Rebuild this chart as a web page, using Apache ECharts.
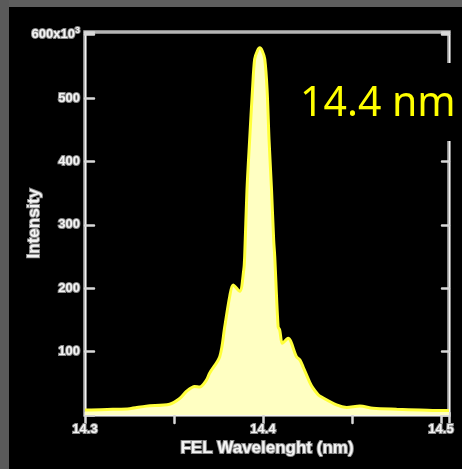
<!DOCTYPE html>
<html>
<head>
<meta charset="utf-8">
<script src="https://cdn.jsdelivr.net/npm/echarts@6/dist/echarts.min.js"></script>
<style>
  html, body { margin: 0; padding: 0; background: #000; }
  #chart { width: 462px; height: 469px; }
</style>
</head>
<body>
<div id="chart"></div>
<script>
// FEL spectrum around 14.4 nm (intensity in units of 10^3)
const wavelengths = [
  14.3000, 14.3016, 14.3156, 14.3250, 14.3344, 14.3475, 14.3532, 14.3569, 14.3616,
  14.3644, 14.3682, 14.3700, 14.3757, 14.3785, 14.3813, 14.3832, 14.3869, 14.3892,
  14.3897, 14.3910, 14.3925, 14.3941, 14.3953, 14.3968, 14.3982, 14.3996, 14.4010,
  14.4023, 14.4034, 14.4048, 14.4060, 14.4066, 14.4085, 14.4094, 14.4109, 14.4141,
  14.4188, 14.4207, 14.4225, 14.4262, 14.4282, 14.4310, 14.4319, 14.4413, 14.4470,
  14.4544, 14.4619, 14.4751, 14.4882, 14.5013, 14.5045
];
const intensities = [
  8, 8, 9, 10, 14, 17, 26, 37, 45,
  44, 55, 66, 92, 139, 187, 205, 195, 229,
  250, 355, 434, 513, 561, 574, 579, 574, 561,
  513, 434, 355, 276, 250, 139, 134, 113, 121,
  92, 87, 76, 52, 42, 32, 30, 16, 12,
  14, 10.5, 9, 8, 7, 7
];
const xTickLabels = ['14.3', '14.4', '14.5'];
const yTickLabels = ['100', '200', '300', '400', '500', '600'];

const frameColor = '#b4b4b4';
const tickStyle = { color: '#d8d8d8', width: 2.5, cap: 'round' };
const labelText = {
  color: '#f4f4f4',
  textBorderColor: '#8a8a8a',
  textBorderWidth: 2,
  fontFamily: 'Liberation Sans, Arial, sans-serif',
  fontWeight: 'bold'
};

const chart = echarts.init(document.getElementById('chart'));
chart.setOption({
  backgroundColor: '#000',
  animation: false,
  grid: {
    left: 85, right: 13, top: 32, bottom: 54,
    outerBoundsMode: 'none',
    show: true, borderColor: frameColor, borderWidth: 3.5
  },
  xAxis: [{
    type: 'value', min: 14.3, max: 14.5045, interval: 0.05,
    position: 'bottom',
    name: 'FEL Wavelenght (nm)', nameLocation: 'middle', nameGap: 25,
    nameMoveOverlap: false,
    nameTextStyle: Object.assign({}, labelText, { fontSize: 17 }),
    axisLine: { show: true, lineStyle: { color: '#f4f4f4', width: 1 } },
    axisTick: { show: true, inside: true, length: 2, lineStyle: tickStyle },
    splitLine: { show: false },
    axisLabel: Object.assign({}, labelText, {
      fontSize: 13, margin: 8,
      formatter: v => {
        const s = v.toFixed(1);
        return (Math.abs(v * 10 - Math.round(v * 10)) < 1e-6 && xTickLabels.includes(s)) ? s : '';
      }
    })
  }, {
    type: 'value', min: 14.3, max: 14.5045, interval: 0.05,
    position: 'top',
    axisLine: { show: true, lineStyle: { color: '#f4f4f4', width: 1 } },
    axisTick: { show: true, inside: true, length: 8, lineStyle: tickStyle },
    splitLine: { show: false },
    axisLabel: { show: false }
  }],
  yAxis: [{
    type: 'value', min: 0, max: 604, interval: 100,
    position: 'left',
    name: 'Intensity', nameLocation: 'middle', nameGap: 42, nameRotate: 90,
    nameMoveOverlap: false,
    nameTextStyle: Object.assign({}, labelText, { fontSize: 17 }),
    axisLine: { show: true, lineStyle: { color: '#f4f4f4', width: 1 } },
    axisTick: { show: true, inside: true, length: 9, lineStyle: tickStyle },
    splitLine: { show: false },
    axisLabel: Object.assign({}, labelText, {
      fontSize: 13, margin: 5,
      formatter: v => {
        const s = String(Math.round(v));
        if (!yTickLabels.includes(s) || Math.abs(v - Math.round(v)) > 1e-6) return '';
        return s === '600' ? '{b|600x10}{s|3}' : s;
      },
      rich: {
        b: Object.assign({}, labelText, { fontSize: 13 }),
        s: Object.assign({}, labelText, { fontSize: 9, verticalAlign: 'top', padding: [0, 0, 9, 0] })
      }
    })
  }, {
    type: 'value', min: 0, max: 604, interval: 100,
    position: 'right',
    axisLine: { show: true, lineStyle: { color: '#f4f4f4', width: 1 } },
    axisTick: { show: true, inside: true, length: 7, lineStyle: tickStyle },
    splitLine: { show: false },
    axisLabel: { show: false }
  }],
  series: [{
    type: 'line',
    data: wavelengths.map((w, i) => [w, intensities[i]]),
    smooth: 0.3,
    showSymbol: false,
    lineStyle: { color: '#ffff3a', width: 3 },
    areaStyle: { color: '#ffffc2', opacity: 1 },
    z: 3
  }],
  graphic: [
    // textured edge strips of the slide background
    { type: 'rect', left: 0, top: 0, shape: { width: 462, height: 7 }, style: { fill: '#5e5e5e' }, z: 0 },
    { type: 'rect', left: 0, top: 0, shape: { width: 9, height: 469 }, style: { fill: '#5a5a5a' }, z: 0 },
    // caption box
    { type: 'rect', left: 296, top: 63, shape: { width: 166, height: 78 }, style: { fill: '#000' }, z: 100 },
    {
      type: 'text', left: 300, top: 84, z: 101,
      style: { text: '14.4 nm', fill: '#ffff00', fontSize: 41, fontFamily: 'Noto Sans, sans-serif' }
    }
  ]
});
</script>
</body>
</html>
